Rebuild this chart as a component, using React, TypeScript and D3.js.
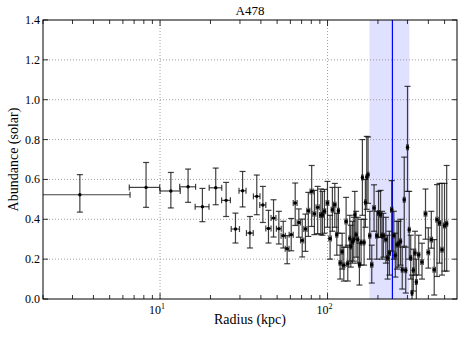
import React from 'react';
import * as d3 from 'd3';

// A478 abundance profile
const title = 'A478';
const radius = [3.32, 8.25, 11.6, 14.7, 17.9, 21.5, 24.8, 28.2, 31.1, 34.4,
  37.8, 41.1, 44.4, 47.6, 51.2, 54.4, 57.4, 60.7, 64.1, 67.4,
  70.6, 73.8, 76.8, 80.4, 83.5, 87.3, 91.2, 93.2, 95.8, 99.9,
  103.6, 106.9, 110.5, 113.6, 116.1, 118.9, 122.2, 125.1, 129.1, 132.1,
  135.8, 137.7, 140.8, 143.5, 145.5, 148.1, 151.6, 155.0, 158.6, 161.5,
  165.3, 168.3, 171.5, 174.6, 178.7, 183.7, 189.6, 196.8, 201.7, 207.3,
  211.6, 215.5, 223.0, 228.3, 234.0, 241.7, 248.8, 254.0, 260.0, 265.5,
  272.9, 279.3, 287.1, 293.1, 300.4, 307.5, 313.9, 319.6, 325.3, 333.0,
  339.0, 350.4, 366.6, 384.6, 399.7, 416.5, 433.5, 450.4, 466.2, 482.5,
  499.4, 514.6];
const radiusErr = [3.3, 1.7, 1.6, 1.6, 1.7, 1.85, 1.5, 1.6, 1.5, 1.6,
  1.7, 1.7, 1.6, 1.6, 1.7, 1.6, 1.5, 1.7, 1.7, 1.6,
  1.6, 1.6, 1.6, 1.7, 1.7, 1.9, 1.5, 1.3, 1.6, 1.8,
  1.8, 1.7, 1.8, 1.5, 1.4, 1.6, 1.7, 1.8, 2.0, 1.9,
  1.6, 1.3, 1.5, 1.3, 1.3, 1.7, 1.8, 1.8, 1.7, 1.6,
  1.8, 1.6, 1.6, 2.0, 2.5, 2.7, 3.0, 2.8, 2.6, 2.4,
  2.3, 3.0, 3.2, 3.0, 3.4, 3.6, 3.2, 3.0, 3.2, 3.4,
  3.6, 3.5, 3.6, 3.4, 3.6, 3.6, 3.2, 3.0, 3.6, 3.8,
  4.0, 5.0, 6.0, 7.0, 7.0, 7.0, 7.0, 7.0, 7.0, 7.0,
  7.0, 7.0];
const abund = [0.523, 0.56, 0.542, 0.563, 0.463, 0.558, 0.495, 0.351, 0.543, 0.331,
  0.515, 0.472, 0.354, 0.406, 0.353, 0.318, 0.252, 0.323, 0.482, 0.384,
  0.294, 0.351, 0.443, 0.54, 0.428, 0.46, 0.421, 0.423, 0.44, 0.482,
  0.303, 0.448, 0.473, 0.323, 0.443, 0.181, 0.237, 0.169, 0.389, 0.177,
  0.303, 0.264, 0.286, 0.298, 0.423, 0.323, 0.298, 0.172, 0.284, 0.61,
  0.284, 0.485, 0.612, 0.624, 0.318, 0.172, 0.457, 0.318, 0.431, 0.423,
  0.319, 0.318, 0.298, 0.206, 0.231, 0.448, 0.319, 0.219, 0.272, 0.277,
  0.289, 0.147, 0.498, 0.144, 0.761, 0.348, 0.206, 0.03, 0.144, 0.231,
  0.085, 0.222, 0.186, 0.428, 0.234, 0.298, 0.147, 0.398, 0.381, 0.247,
  0.369, 0.378];
const abundLo = [0.436, 0.46, 0.457, 0.485, 0.388, 0.473, 0.414, 0.281, 0.462, 0.256,
  0.423, 0.384, 0.281, 0.311, 0.276, 0.256, 0.177, 0.242, 0.369, 0.31,
  0.211, 0.239, 0.314, 0.364, 0.323, 0.328, 0.323, 0.32, 0.33, 0.36,
  0.2, 0.34, 0.36, 0.22, 0.33, 0.1, 0.15, 0.09, 0.26, 0.09,
  0.19, 0.16, 0.18, 0.19, 0.3, 0.21, 0.18, 0.07, 0.17, 0.42,
  0.17, 0.36, 0.45, 0.48, 0.2, 0.08, 0.34, 0.2, 0.31, 0.31,
  0.2, 0.21, 0.18, 0.1, 0.12, 0.24, 0.2, 0.11, 0.15, 0.16,
  0.17, 0.05, 0.265, 0.03, 0.54, 0.2, 0.1, -0.05, 0.04, 0.12,
  -0.03, 0.12, 0.1, 0.3, 0.155, 0.255, 0.02, 0.113, 0.18, 0.12,
  0.14, 0.14];
const abundHi = [0.624, 0.685, 0.635, 0.652, 0.555, 0.657, 0.585, 0.431, 0.64, 0.414,
  0.622, 0.565, 0.445, 0.498, 0.44, 0.39, 0.318, 0.404, 0.582, 0.452,
  0.401, 0.426, 0.535, 0.67, 0.545, 0.565, 0.552, 0.54, 0.55, 0.59,
  0.42, 0.56, 0.58, 0.43, 0.56, 0.27, 0.33, 0.26, 0.51, 0.27,
  0.42, 0.37, 0.39, 0.41, 0.54, 0.44, 0.41, 0.28, 0.4, 0.8,
  0.4, 0.6, 0.816, 0.813, 0.44, 0.27, 0.573, 0.44, 0.54, 0.545,
  0.44, 0.43, 0.41, 0.32, 0.34, 0.594, 0.44, 0.33, 0.39, 0.39,
  0.4, 0.26, 0.712, 0.26, 1.067, 0.54, 0.32, 0.12, 0.25, 0.34,
  0.2, 0.32, 0.28, 0.552, 0.357, 0.44, 0.298, 0.574, 0.58, 0.58,
  0.58, 0.67];

const yTicks = [0, 0.2, 0.4, 0.6, 0.8, 1.0, 1.2, 1.4];
const xMajor = [10, 100];
const xMinor = [2, 3, 4, 5, 6, 7, 8, 9, 20, 30, 40, 50, 60, 70, 80, 90, 200, 300, 400, 500];
const band = [178, 308];
const bandCenter = 244;

const font = "'Liberation Serif', 'Times New Roman', serif";

export default function App() {
  const W = 463, H = 342;
  const margin = { top: 20, right: 6, bottom: 43, left: 43 };
  const x = d3.scaleLog().domain([2, 593]).range([margin.left, W - margin.right]);
  const y = d3.scaleLinear().domain([0, 1.4]).range([H - margin.bottom, margin.top]);
  const [x0, x1] = x.range();
  const [y0, y1] = y.range();
  const cap = 3;

  return (
    <svg width={W} height={H} style={{ position: 'absolute', left: 0, top: 0, background: '#fff' }} fontFamily={font}>
      <defs>
        <clipPath id="plot">
          <rect x={x0} y={y1} width={x1 - x0} height={y0 - y1} />
        </clipPath>
      </defs>
      {/* shaded band */}
      <rect x={x(band[0])} y={y1} width={x(band[1]) - x(band[0])} height={y0 - y1} fill="rgba(0,0,255,0.12)" />
      {/* grid */}
      {yTicks.slice(1, -1).map(t => (
        <line key={'gy' + t} x1={x0} x2={x1} y1={y(t)} y2={y(t)} stroke="#888" strokeWidth={0.8} strokeDasharray="1,2" />
      ))}
      {xMajor.map(t => (
        <line key={'gx' + t} x1={x(t)} x2={x(t)} y1={y0} y2={y1} stroke="#888" strokeWidth={0.8} strokeDasharray="1,2" />
      ))}
      <line x1={x(bandCenter)} x2={x(bandCenter)} y1={y0} y2={y1} stroke="#0000ff" strokeWidth={1.2} />
      {/* error bars */}
      <g clipPath="url(#plot)" stroke="#111" strokeOpacity={0.8} strokeWidth={1.2} fill="none">
        {radius.map((r, i) => {
          const cx = x(r), cy = y(abund[i]);
          const xl = x(Math.max(r - radiusErr[i], 0.5)), xr = x(r + radiusErr[i]);
          const yl = y(abundLo[i]), yh = y(abundHi[i]);
          return (
            <g key={i}>
              <line x1={cx} x2={cx} y1={yl} y2={yh} />
              <line x1={cx - cap} x2={cx + cap} y1={yl} y2={yl} />
              <line x1={cx - cap} x2={cx + cap} y1={yh} y2={yh} />
              <line x1={xl} x2={xr} y1={cy} y2={cy} />
              <line x1={xl} x2={xl} y1={cy - cap} y2={cy + cap} />
              <line x1={xr} x2={xr} y1={cy - cap} y2={cy + cap} />
            </g>
          );
        })}
      </g>
      <g clipPath="url(#plot)">
        {radius.map((r, i) => (
          <circle key={i} cx={x(r)} cy={y(abund[i])} r={1.7} fill="#000" />
        ))}
      </g>
      {/* frame */}
      <rect x={x0} y={y1} width={x1 - x0} height={y0 - y1} fill="none" stroke="#000" strokeWidth={1} />
      {/* ticks */}
      <g stroke="#000" strokeWidth={0.8}>
        {xMajor.map(t => (
          <g key={'xm' + t}>
            <line x1={x(t)} x2={x(t)} y1={y0} y2={y0 - 6} />
            <line x1={x(t)} x2={x(t)} y1={y1} y2={y1 + 6} />
          </g>
        ))}
        {xMinor.map(t => (
          <g key={'xn' + t}>
            <line x1={x(t)} x2={x(t)} y1={y0} y2={y0 - 4} />
            <line x1={x(t)} x2={x(t)} y1={y1} y2={y1 + 4} />
          </g>
        ))}
        {yTicks.map(t => (
          <g key={'yt' + t}>
            <line x1={x0} x2={x0 + 5} y1={y(t)} y2={y(t)} />
            <line x1={x1} x2={x1 - 5} y1={y(t)} y2={y(t)} />
          </g>
        ))}
      </g>
      {/* labels */}
      {yTicks.map(t => (
        <text key={'yl' + t} x={x0 - 3} y={y(t) + 4} textAnchor="end" fontSize={12}>{t.toFixed(1)}</text>
      ))}
      {xMajor.map(t => (
        <text key={'xl' + t} x={x(t) - 3} y={y0 + 15} textAnchor="middle" fontSize={12}>
          10<tspan dy={-5} fontSize={8}>{Math.round(Math.log10(t))}</tspan>
        </text>
      ))}
      <text x={(x0 + x1) / 2} y={y0 + 25} textAnchor="middle" fontSize={14}>Radius (kpc)</text>
      <text transform={`translate(18,${(y0 + y1) / 2}) rotate(-90)`} textAnchor="middle" fontSize={14}>Abundance (solar)</text>
      <text x={(x0 + x1) / 2} y={y1 - 5} textAnchor="middle" fontSize={13}>{title}</text>
    </svg>
  );
}
